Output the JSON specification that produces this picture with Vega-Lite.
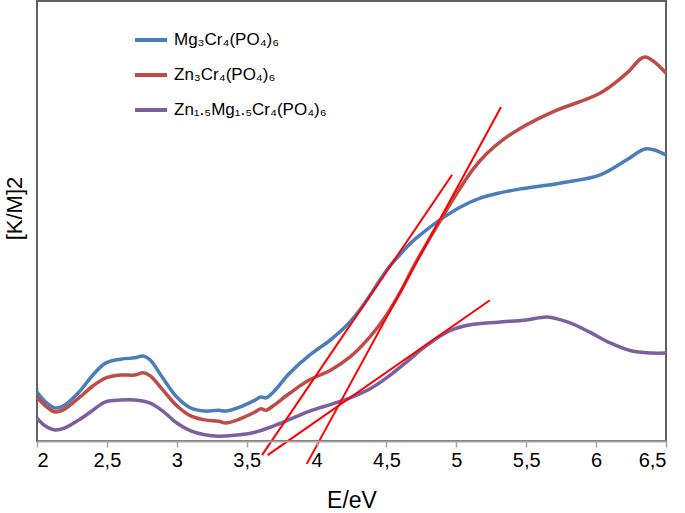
{
  "$schema": "https://vega.github.io/schema/vega-lite/v6.json",
  "width": 629,
  "height": 440,
  "autosize": "none",
  "padding": {"left": 37, "top": 1, "right": 19, "bottom": 72},
  "background": "white",
  "config": {
    "view": {"stroke": "#606060", "strokeWidth": 2},
    "font": "Liberation Sans"
  },
  "datasets": {
    "curves": [
      {"E": 2.00, "v": 11.1, "s": "Mg₃Cr₄(PO₄)₆"},
      {"E": 2.06, "v": 8.9, "s": "Mg₃Cr₄(PO₄)₆"},
      {"E": 2.13, "v": 7.5, "s": "Mg₃Cr₄(PO₄)₆"},
      {"E": 2.20, "v": 8.2, "s": "Mg₃Cr₄(PO₄)₆"},
      {"E": 2.30, "v": 11.1, "s": "Mg₃Cr₄(PO₄)₆"},
      {"E": 2.40, "v": 15.0, "s": "Mg₃Cr₄(PO₄)₆"},
      {"E": 2.49, "v": 17.7, "s": "Mg₃Cr₄(PO₄)₆"},
      {"E": 2.60, "v": 18.6, "s": "Mg₃Cr₄(PO₄)₆"},
      {"E": 2.70, "v": 18.9, "s": "Mg₃Cr₄(PO₄)₆"},
      {"E": 2.76, "v": 19.3, "s": "Mg₃Cr₄(PO₄)₆"},
      {"E": 2.81, "v": 18.4, "s": "Mg₃Cr₄(PO₄)₆"},
      {"E": 2.90, "v": 14.3, "s": "Mg₃Cr₄(PO₄)₆"},
      {"E": 3.00, "v": 10.0, "s": "Mg₃Cr₄(PO₄)₆"},
      {"E": 3.10, "v": 7.5, "s": "Mg₃Cr₄(PO₄)₆"},
      {"E": 3.20, "v": 6.8, "s": "Mg₃Cr₄(PO₄)₆"},
      {"E": 3.30, "v": 7.0, "s": "Mg₃Cr₄(PO₄)₆"},
      {"E": 3.35, "v": 6.8, "s": "Mg₃Cr₄(PO₄)₆"},
      {"E": 3.45, "v": 7.7, "s": "Mg₃Cr₄(PO₄)₆"},
      {"E": 3.56, "v": 9.3, "s": "Mg₃Cr₄(PO₄)₆"},
      {"E": 3.60, "v": 10.0, "s": "Mg₃Cr₄(PO₄)₆"},
      {"E": 3.64, "v": 9.8, "s": "Mg₃Cr₄(PO₄)₆"},
      {"E": 3.69, "v": 11.1, "s": "Mg₃Cr₄(PO₄)₆"},
      {"E": 3.81, "v": 15.5, "s": "Mg₃Cr₄(PO₄)₆"},
      {"E": 3.95, "v": 19.5, "s": "Mg₃Cr₄(PO₄)₆"},
      {"E": 4.10, "v": 23.0, "s": "Mg₃Cr₄(PO₄)₆"},
      {"E": 4.22, "v": 26.4, "s": "Mg₃Cr₄(PO₄)₆"},
      {"E": 4.31, "v": 29.8, "s": "Mg₃Cr₄(PO₄)₆"},
      {"E": 4.38, "v": 33.0, "s": "Mg₃Cr₄(PO₄)₆"},
      {"E": 4.45, "v": 36.4, "s": "Mg₃Cr₄(PO₄)₆"},
      {"E": 4.52, "v": 39.6, "s": "Mg₃Cr₄(PO₄)₆"},
      {"E": 4.60, "v": 42.5, "s": "Mg₃Cr₄(PO₄)₆"},
      {"E": 4.67, "v": 44.9, "s": "Mg₃Cr₄(PO₄)₆"},
      {"E": 4.74, "v": 46.8, "s": "Mg₃Cr₄(PO₄)₆"},
      {"E": 4.88, "v": 50.2, "s": "Mg₃Cr₄(PO₄)₆"},
      {"E": 5.03, "v": 53.2, "s": "Mg₃Cr₄(PO₄)₆"},
      {"E": 5.17, "v": 55.2, "s": "Mg₃Cr₄(PO₄)₆"},
      {"E": 5.31, "v": 56.4, "s": "Mg₃Cr₄(PO₄)₆"},
      {"E": 5.46, "v": 57.3, "s": "Mg₃Cr₄(PO₄)₆"},
      {"E": 5.74, "v": 58.6, "s": "Mg₃Cr₄(PO₄)₆"},
      {"E": 6.03, "v": 60.5, "s": "Mg₃Cr₄(PO₄)₆"},
      {"E": 6.22, "v": 63.9, "s": "Mg₃Cr₄(PO₄)₆"},
      {"E": 6.36, "v": 66.4, "s": "Mg₃Cr₄(PO₄)₆"},
      {"E": 6.50, "v": 65.0, "s": "Mg₃Cr₄(PO₄)₆"},

      {"E": 2.00, "v": 10.0, "s": "Zn₃Cr₄(PO₄)₆"},
      {"E": 2.06, "v": 8.0, "s": "Zn₃Cr₄(PO₄)₆"},
      {"E": 2.13, "v": 6.6, "s": "Zn₃Cr₄(PO₄)₆"},
      {"E": 2.20, "v": 7.3, "s": "Zn₃Cr₄(PO₄)₆"},
      {"E": 2.30, "v": 9.8, "s": "Zn₃Cr₄(PO₄)₆"},
      {"E": 2.40, "v": 12.5, "s": "Zn₃Cr₄(PO₄)₆"},
      {"E": 2.49, "v": 14.3, "s": "Zn₃Cr₄(PO₄)₆"},
      {"E": 2.60, "v": 15.0, "s": "Zn₃Cr₄(PO₄)₆"},
      {"E": 2.70, "v": 15.0, "s": "Zn₃Cr₄(PO₄)₆"},
      {"E": 2.76, "v": 15.5, "s": "Zn₃Cr₄(PO₄)₆"},
      {"E": 2.81, "v": 14.8, "s": "Zn₃Cr₄(PO₄)₆"},
      {"E": 2.90, "v": 11.6, "s": "Zn₃Cr₄(PO₄)₆"},
      {"E": 3.00, "v": 8.0, "s": "Zn₃Cr₄(PO₄)₆"},
      {"E": 3.10, "v": 5.7, "s": "Zn₃Cr₄(PO₄)₆"},
      {"E": 3.20, "v": 4.8, "s": "Zn₃Cr₄(PO₄)₆"},
      {"E": 3.30, "v": 4.5, "s": "Zn₃Cr₄(PO₄)₆"},
      {"E": 3.35, "v": 4.1, "s": "Zn₃Cr₄(PO₄)₆"},
      {"E": 3.45, "v": 5.0, "s": "Zn₃Cr₄(PO₄)₆"},
      {"E": 3.56, "v": 6.6, "s": "Zn₃Cr₄(PO₄)₆"},
      {"E": 3.60, "v": 7.3, "s": "Zn₃Cr₄(PO₄)₆"},
      {"E": 3.64, "v": 7.0, "s": "Zn₃Cr₄(PO₄)₆"},
      {"E": 3.69, "v": 8.0, "s": "Zn₃Cr₄(PO₄)₆"},
      {"E": 3.81, "v": 10.9, "s": "Zn₃Cr₄(PO₄)₆"},
      {"E": 3.95, "v": 13.9, "s": "Zn₃Cr₄(PO₄)₆"},
      {"E": 4.10, "v": 16.1, "s": "Zn₃Cr₄(PO₄)₆"},
      {"E": 4.24, "v": 19.1, "s": "Zn₃Cr₄(PO₄)₆"},
      {"E": 4.38, "v": 23.6, "s": "Zn₃Cr₄(PO₄)₆"},
      {"E": 4.50, "v": 28.6, "s": "Zn₃Cr₄(PO₄)₆"},
      {"E": 4.60, "v": 33.9, "s": "Zn₃Cr₄(PO₄)₆"},
      {"E": 4.70, "v": 40.0, "s": "Zn₃Cr₄(PO₄)₆"},
      {"E": 4.81, "v": 46.1, "s": "Zn₃Cr₄(PO₄)₆"},
      {"E": 4.93, "v": 52.5, "s": "Zn₃Cr₄(PO₄)₆"},
      {"E": 5.03, "v": 57.6, "s": "Zn₃Cr₄(PO₄)₆"},
      {"E": 5.12, "v": 61.8, "s": "Zn₃Cr₄(PO₄)₆"},
      {"E": 5.22, "v": 65.4, "s": "Zn₃Cr₄(PO₄)₆"},
      {"E": 5.33, "v": 68.4, "s": "Zn₃Cr₄(PO₄)₆"},
      {"E": 5.46, "v": 71.1, "s": "Zn₃Cr₄(PO₄)₆"},
      {"E": 5.69, "v": 74.8, "s": "Zn₃Cr₄(PO₄)₆"},
      {"E": 6.03, "v": 79.1, "s": "Zn₃Cr₄(PO₄)₆"},
      {"E": 6.22, "v": 83.6, "s": "Zn₃Cr₄(PO₄)₆"},
      {"E": 6.35, "v": 87.3, "s": "Zn₃Cr₄(PO₄)₆"},
      {"E": 6.50, "v": 83.6, "s": "Zn₃Cr₄(PO₄)₆"},

      {"E": 2.00, "v": 5.2, "s": "Zn₁.₅Mg₁.₅Cr₄(PO₄)₆"},
      {"E": 2.06, "v": 3.4, "s": "Zn₁.₅Mg₁.₅Cr₄(PO₄)₆"},
      {"E": 2.13, "v": 2.5, "s": "Zn₁.₅Mg₁.₅Cr₄(PO₄)₆"},
      {"E": 2.20, "v": 3.0, "s": "Zn₁.₅Mg₁.₅Cr₄(PO₄)₆"},
      {"E": 2.30, "v": 4.8, "s": "Zn₁.₅Mg₁.₅Cr₄(PO₄)₆"},
      {"E": 2.40, "v": 7.0, "s": "Zn₁.₅Mg₁.₅Cr₄(PO₄)₆"},
      {"E": 2.49, "v": 8.9, "s": "Zn₁.₅Mg₁.₅Cr₄(PO₄)₆"},
      {"E": 2.60, "v": 9.3, "s": "Zn₁.₅Mg₁.₅Cr₄(PO₄)₆"},
      {"E": 2.70, "v": 9.3, "s": "Zn₁.₅Mg₁.₅Cr₄(PO₄)₆"},
      {"E": 2.81, "v": 8.6, "s": "Zn₁.₅Mg₁.₅Cr₄(PO₄)₆"},
      {"E": 2.90, "v": 6.8, "s": "Zn₁.₅Mg₁.₅Cr₄(PO₄)₆"},
      {"E": 3.00, "v": 4.1, "s": "Zn₁.₅Mg₁.₅Cr₄(PO₄)₆"},
      {"E": 3.10, "v": 2.3, "s": "Zn₁.₅Mg₁.₅Cr₄(PO₄)₆"},
      {"E": 3.20, "v": 1.4, "s": "Zn₁.₅Mg₁.₅Cr₄(PO₄)₆"},
      {"E": 3.30, "v": 1.1, "s": "Zn₁.₅Mg₁.₅Cr₄(PO₄)₆"},
      {"E": 3.45, "v": 1.4, "s": "Zn₁.₅Mg₁.₅Cr₄(PO₄)₆"},
      {"E": 3.56, "v": 2.0, "s": "Zn₁.₅Mg₁.₅Cr₄(PO₄)₆"},
      {"E": 3.69, "v": 3.4, "s": "Zn₁.₅Mg₁.₅Cr₄(PO₄)₆"},
      {"E": 3.83, "v": 5.2, "s": "Zn₁.₅Mg₁.₅Cr₄(PO₄)₆"},
      {"E": 3.97, "v": 7.0, "s": "Zn₁.₅Mg₁.₅Cr₄(PO₄)₆"},
      {"E": 4.11, "v": 8.4, "s": "Zn₁.₅Mg₁.₅Cr₄(PO₄)₆"},
      {"E": 4.24, "v": 9.8, "s": "Zn₁.₅Mg₁.₅Cr₄(PO₄)₆"},
      {"E": 4.38, "v": 11.8, "s": "Zn₁.₅Mg₁.₅Cr₄(PO₄)₆"},
      {"E": 4.52, "v": 14.8, "s": "Zn₁.₅Mg₁.₅Cr₄(PO₄)₆"},
      {"E": 4.66, "v": 18.4, "s": "Zn₁.₅Mg₁.₅Cr₄(PO₄)₆"},
      {"E": 4.80, "v": 22.0, "s": "Zn₁.₅Mg₁.₅Cr₄(PO₄)₆"},
      {"E": 4.95, "v": 25.0, "s": "Zn₁.₅Mg₁.₅Cr₄(PO₄)₆"},
      {"E": 5.10, "v": 26.4, "s": "Zn₁.₅Mg₁.₅Cr₄(PO₄)₆"},
      {"E": 5.30, "v": 27.0, "s": "Zn₁.₅Mg₁.₅Cr₄(PO₄)₆"},
      {"E": 5.50, "v": 27.5, "s": "Zn₁.₅Mg₁.₅Cr₄(PO₄)₆"},
      {"E": 5.65, "v": 28.2, "s": "Zn₁.₅Mg₁.₅Cr₄(PO₄)₆"},
      {"E": 5.80, "v": 27.0, "s": "Zn₁.₅Mg₁.₅Cr₄(PO₄)₆"},
      {"E": 5.95, "v": 24.8, "s": "Zn₁.₅Mg₁.₅Cr₄(PO₄)₆"},
      {"E": 6.10, "v": 22.3, "s": "Zn₁.₅Mg₁.₅Cr₄(PO₄)₆"},
      {"E": 6.25, "v": 20.5, "s": "Zn₁.₅Mg₁.₅Cr₄(PO₄)₆"},
      {"E": 6.40, "v": 20.0, "s": "Zn₁.₅Mg₁.₅Cr₄(PO₄)₆"},
      {"E": 6.50, "v": 20.0, "s": "Zn₁.₅Mg₁.₅Cr₄(PO₄)₆"}
    ],
    "tangents": [
      {"E": 3.61, "v": -3.2, "id": "blue"},
      {"E": 4.97, "v": 60.5, "id": "blue"},
      {"E": 3.65, "v": -3.2, "id": "purple"},
      {"E": 5.24, "v": 32.0, "id": "purple"},
      {"E": 3.93, "v": -5.2, "id": "red"},
      {"E": 5.32, "v": 75.9, "id": "red"}
    ]
  },
  "layer": [
    {
      "data": {"name": "curves"},
      "mark": {"type": "line", "interpolate": "catmull-rom", "strokeWidth": 3.5, "clip": false},
      "encoding": {
        "x": {
          "field": "E", "type": "quantitative",
          "scale": {"domain": [2, 6.5], "nice": false, "zero": false},
          "axis": {
            "values": [2, 2.5, 3, 3.5, 4, 4.5, 5, 5.5, 6, 6.5],
            "labelExpr": "replace(format(datum.value, '~g'), '.', ',')",
            "grid": false,
            "domainColor": "#a6a6a6", "domainWidth": 2, "zindex": 1,
            "tickColor": "#a6a6a6", "tickWidth": 1.5, "tickSize": 6,
            "labelFontSize": 20, "labelColor": "#000000", "labelPadding": 3,
            "labelFont": "Liberation Sans",
            "title": "E/eV", "titleFontSize": 23, "titleFontWeight": "normal",
            "titleColor": "#000000", "titleFont": "Liberation Sans",
            "titleBaseline": "alphabetic", "titleY": 66
          }
        },
        "y": {
          "field": "v", "type": "quantitative",
          "scale": {"domain": [0, 100], "nice": false},
          "axis": {
            "domain": false, "ticks": false, "labels": false, "grid": false,
            "title": "[K/M]2", "titleFontSize": 22, "titleFontWeight": "normal",
            "titleColor": "#000000", "titleFont": "Liberation Sans",
            "titleX": -23, "titleY": 207, "titleAngle": -90,
            "titleBaseline": "middle", "titleAlign": "center"
          }
        },
        "color": {
          "field": "s", "type": "nominal",
          "scale": {
            "domain": ["Mg₃Cr₄(PO₄)₆", "Zn₃Cr₄(PO₄)₆", "Zn₁.₅Mg₁.₅Cr₄(PO₄)₆"],
            "range": ["#4A7EBB", "#BE4B48", "#7D5FA0"]
          },
          "sort": null,
          "legend": {
            "title": null, "orient": "none", "legendX": 96, "legendY": 21,
            "symbolType": "stroke", "symbolSize": 1024, "symbolStrokeWidth": 4,
            "labelFontSize": 17, "labelFont": "Liberation Sans", "labelColor": "#000000",
            "labelOffset": 5, "rowPadding": 9, "padding": 0,
            "labelLimit": 300
          }
        }
      }
    },
    {
      "data": {"name": "tangents"},
      "mark": {"type": "line", "color": "#FF0000", "strokeWidth": 2, "clip": false},
      "encoding": {
        "x": {"field": "E", "type": "quantitative"},
        "y": {"field": "v", "type": "quantitative"},
        "detail": {"field": "id", "type": "nominal"}
      }
    }
  ]
}
